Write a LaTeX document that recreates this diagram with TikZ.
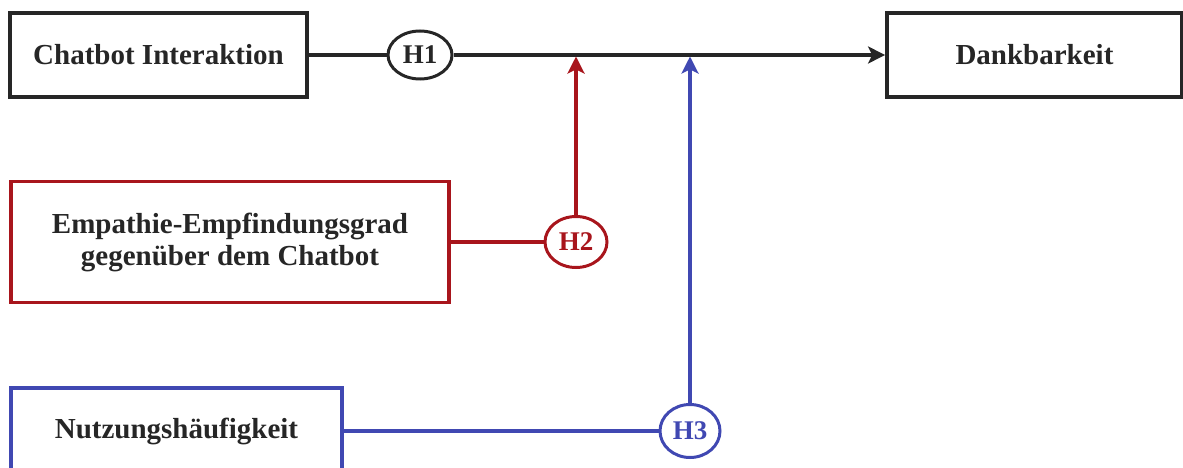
\documentclass[tikz,border=0pt]{standalone}
\usepackage{fontspec}
\setmainfont{Liberation Serif}
\usetikzlibrary{shapes.geometric,arrows.meta}

\definecolor{inkdark}{HTML}{262626}
\definecolor{inkred}{HTML}{A8151C}
\definecolor{inkblue}{HTML}{4048B2}

\tikzset{
  varbox/.style={draw, rectangle, line width=3.8pt, inner sep=0pt,
    align=center, font=\fontsize{29}{32}\selectfont\bfseries, text=inkdark},
  hypo/.style={draw, ellipse, line width=3pt, inner sep=0pt,
    font=\fontsize{27}{27}\selectfont\bfseries},
  conn/.style={line width=3.1pt},
  headed/.style={-{Stealth[length=17pt,width=17pt,inset=4pt]}}
}

\begin{document}
\begin{tikzpicture}[x=1pt,y=-1pt]
  \useasboundingbox (0,0) rectangle (1183,468);
  \begin{scope}
    \clip (0,0) rectangle (1183,468);

    % input, outcome and moderators
    \node[varbox, draw=inkdark, minimum width=297pt, minimum height=84pt]
      (chat) at (158.5,55) {Chatbot Interaktion};
    \node[varbox, draw=inkdark, minimum width=295pt, minimum height=84pt]
      (dank) at (1034.5,55) {Dankbarkeit};
    \node[varbox, draw=inkred, minimum width=438pt, minimum height=121pt]
      (emp) at (230,242) {Empathie-Empfindungsgrad\\gegenüber dem Chatbot};
    \node[varbox, draw=inkblue, minimum width=331pt, minimum height=86pt]
      (nutz) at (176.5,431) {Nutzungshäufigkeit};

    % hypotheses
    \node[hypo, draw=inkdark, text=inkdark, minimum width=64pt, minimum height=48pt]
      (h1) at (420,55) {H1};
    \node[hypo, draw=inkred, text=inkred, minimum width=62pt, minimum height=51pt]
      (h2) at (576,242) {H2};
    \node[hypo, draw=inkblue, text=inkblue, minimum width=60pt, minimum height=53pt]
      (h3) at (690,431) {H3};

    % main effect path
    \draw[conn, draw=inkdark] (chat.east) -- (h1.west);
    \draw[conn, draw=inkdark, headed] (h1.east) -- (dank.west);

    % moderation paths
    \coordinate (m2) at (h2.north |- h1.center);
    \coordinate (m3) at (h3.north |- h1.center);
    \draw[conn, draw=inkred] (emp.east) -- (h2.west);
    \draw[conn, draw=inkred, headed, shorten >=1.5pt] (h2.north) -- (m2);
    \draw[conn, draw=inkblue] (nutz.east) -- (h3.west);
    \draw[conn, draw=inkblue, headed, shorten >=1.5pt] (h3.north) -- (m3);
  \end{scope}
\end{tikzpicture}
\end{document}
